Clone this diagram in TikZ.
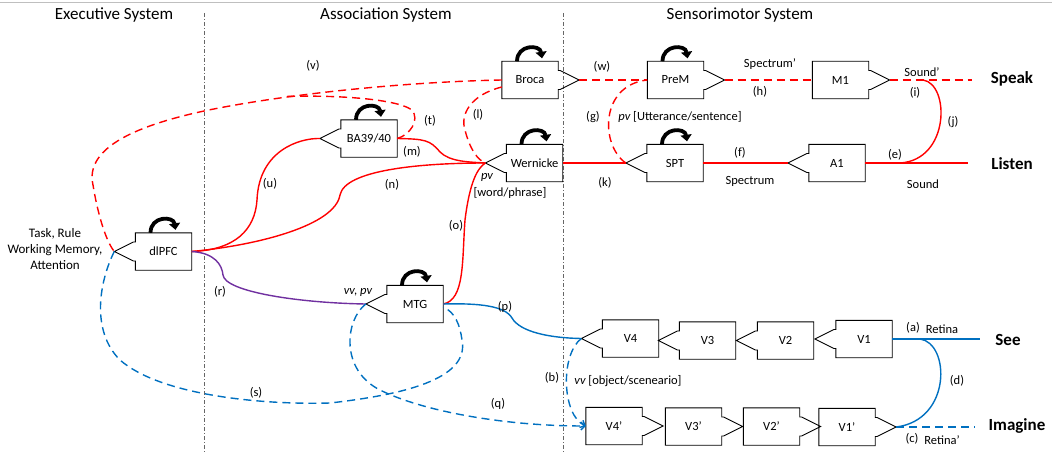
\documentclass[tikz,border=0pt]{standalone}
\usepackage{fontspec}
\setmainfont{Carlito}
\usetikzlibrary{arrows.meta,calc}
\definecolor{cred}{RGB}{255,0,0}
\definecolor{cblue}{RGB}{0,112,192}
\definecolor{cpurple}{RGB}{112,48,160}
\tikzset{
 bx/.style={draw=none, minimum width=56pt, minimum height=37pt, inner sep=0pt, font=\fontsize{12.5}{14}\selectfont},
 boxline/.style={draw=black, line width=0.9pt, line join=miter},
 loopar/.style={line width=3.8pt, -{Triangle[length=6.5pt,width=11pt]}},
 conn/.style={line width=1.4pt},
 dsh/.style={dash pattern=on 8pt off 5pt},
 arr/.style={-{Straight Barb[length=4pt,width=8pt]}},
 lbl/.style={font=\fontsize{12.5}{14}\selectfont, inner sep=0pt},
 hdr/.style={font=\fontsize{17}{20}\selectfont, inner sep=0pt},
 side/.style={font=\fontsize{17}{20}\selectfont\bfseries, inner sep=0pt},
 sepline/.style={line width=0.6pt, black!60, dash pattern=on 4pt off 2pt on 1pt off 2pt},
}
\newcommand\boxW[1]{%
 \draw[boxline] (#1.north east) -- (#1.north west) -- ([yshift=9.5pt]#1.west) -- ([yshift=9.5pt,xshift=-2pt]#1.west) -- ([xshift=-21pt]#1.west) -- ([yshift=-9.5pt,xshift=-2pt]#1.west) -- ([yshift=-9.5pt]#1.west) -- (#1.south west) -- (#1.south east) -- cycle;
 \coordinate (#1-tip) at ([xshift=-21pt]#1.west);}
\newcommand\boxE[1]{%
 \draw[boxline] (#1.north west) -- (#1.north east) -- ([yshift=9.5pt]#1.east) -- ([yshift=9.5pt,xshift=2pt]#1.east) -- ([xshift=21pt]#1.east) -- ([yshift=-9.5pt,xshift=2pt]#1.east) -- ([yshift=-9.5pt]#1.east) -- (#1.south east) -- (#1.south west) -- cycle;
 \coordinate (#1-tip) at ([xshift=21pt]#1.east);}
\newcommand\selfloop[1]{%
 \draw[loopar] ([xshift=-13pt]#1.north) .. controls +(0,-17) and +(-2,-14) .. ([xshift=12pt,yshift=3pt]#1.north);}
\begin{document}
\begin{tikzpicture}[x=1pt,y=-1pt]
\useasboundingbox (0,0) rectangle (1052,452);
\coordinate (tl) at (0,2.5); \coordinate (tr) at (1052,2.5);
\draw[black!25, line width=0.8pt] (tl) -- (tr);
% separators
\coordinate (s1t) at (204,13); \coordinate (s1b) at (204,452);
\coordinate (s2t) at (563,13); \coordinate (s2b) at (563,452);
\draw[sepline] (s1t) -- (s1b);
\draw[sepline] (s2t) -- (s2b);
% headers
\node[hdr] (h1) at (114,15) {Executive System};
\node[hdr] (h2) at (386,15) {Association System};
\node[hdr] (h3) at (740,15) {Sensorimotor System};
% boxes
\node[bx] (dlpfc) at (163.5,251.5) {dlPFC\hspace{19pt}};
\node[bx] (ba) at (369,138.5) {BA39/40};
\node[bx] (broca) at (530,80) {Broca\hspace{6pt}};
\node[bx] (wern) at (534.5,163) {Wernicke};
\node[bx] (prem) at (675.5,80) {PreM\hspace{9pt}};
\node[bx] (m1) at (840.5,80) {M1\hspace{25pt}};
\node[bx] (spt) at (675,163) {SPT};
\node[bx] (a1) at (837,163) {A1};
\node[bx] (mtg) at (415,304) {MTG\hspace{9pt}};
\node[bx] (v4) at (630.5,338.5) {V4};
\node[bx] (v3) at (707.5,340.5) {V3};
\node[bx] (v2) at (785.5,340.5) {V2\hspace{4pt}};
\node[bx] (v1) at (864,339) {V1\hspace{8pt}};
\node[bx] (v4p) at (614,426) {V4’};
\node[bx] (v3p) at (693.5,426.5) {V3’};
\node[bx] (v2p) at (771.5,426.5) {V2’};
\node[bx] (v1p) at (847,427) {V1’};
\boxW{dlpfc} \boxW{ba} \boxE{broca} \boxW{wern} \boxE{prem} \boxE{m1}
\boxW{spt} \boxW{a1} \boxW{mtg} \boxW{v4} \boxW{v3} \boxW{v2} \boxW{v1}
\boxE{v4p} \boxE{v3p} \boxE{v2p} \boxE{v1p}
\selfloop{dlpfc} \selfloop{ba} \selfloop{broca} \selfloop{wern}
\selfloop{prem} \selfloop{spt} \selfloop{mtg}
% free ends
\coordinate (tj) at (286,96.5);
\coordinate (j1) at (923,80);
\coordinate (j2) at (900,163);
\coordinate (speakend) at (972,80);
\coordinate (listenend) at (968,163);
\coordinate (d1) at (920,339);
\coordinate (seeend) at (980,339);
\coordinate (imagend) at (975,427);
% red solid
\draw[conn,cred] (a1.east) -- (listenend);
\draw[conn,cred] (j1) .. controls (950,84) and (950,160) .. (j2);
\draw[conn,cred] (a1-tip) -- (spt.east);
\draw[conn,cred] (spt-tip) -- (wern.east);
\draw[conn,cred] (dlpfc.east) .. controls (235,250) and (255,230) .. (257,200) .. controls (259,150) and (300,138) .. (ba-tip);
\draw[conn,cred] (dlpfc.east) .. controls (260,245) and (335,225) .. (340,195) .. controls (345,170) and (420,163) .. (wern-tip);
\draw[conn,cred] (ba.east) .. controls (425,139) and (430,140) .. (440,152) .. controls (450,162) and (470,162) .. (wern-tip);
\draw[conn,cred] (mtg.east) .. controls (465,300) and (462,260) .. (465,220) .. controls (470,180) and (478,168) .. (wern-tip);
% red dashed
\draw[conn,cred,dsh] (broca-tip) -- (prem.west);
\draw[conn,cred,dsh] (prem-tip) -- (m1.west);
\draw[conn,cred,dsh] (m1-tip) -- (speakend);
\draw[conn,cred,dsh] (spt-tip) .. controls (600,145) and (600,85) .. (prem.west);
\draw[conn,cred,dsh] ([yshift=-7pt]broca.west) .. controls (470,95) and (460,115) .. (465,130) .. controls (470,150) and (478,160) .. (wern-tip);
\draw[conn,cred,dsh] (broca.west) .. controls (400,82) and (280,95) .. (204,111) .. controls (130,127) and (85,150) .. (93,185) .. controls (97,210) and (105,240) .. (dlpfc-tip);
\draw[conn,cred,dsh] (ba.east) .. controls (410,135) and (420,120) .. (412,110) .. controls (395,98) and (330,95) .. (tj);
% purple
\draw[conn,cpurple] (dlpfc.east) .. controls (215,253) and (222,265) .. (223,275) .. controls (225,292) and (300,303) .. (mtg-tip);
% blue solid
\draw[conn,cblue] (mtg.east) .. controls (480,303) and (505,306) .. (512,318) .. controls (520,332) and (550,338) .. (v4-tip);
\draw[conn,cblue] (v1.east) -- (seeend);
\draw[conn,cblue] (d1) .. controls (950,343) and (952,420) .. (v1p-tip);
% blue dashed
\draw[conn,cblue,dsh] (v1p-tip) -- (imagend);
\draw[conn,cblue,dsh,arr] (v4-tip) .. controls (560,355) and (562,415) .. (v4p.west);
\draw[conn,cblue,dsh,arr] (mtg-tip) .. controls (345,320) and (340,370) .. (380,390) .. controls (420,410) and (500,426) .. (v4p.west);
\draw[conn,cblue,dsh] (dlpfc-tip) .. controls (100,280) and (90,330) .. (120,360) .. controls (160,395) and (260,405) .. (330,403) .. controls (400,395) and (470,380) .. (462,340) .. controls (460,325) and (455,312) .. ([yshift=-3pt]mtg.east);
% labels
\node[lbl] (lv) at (313,66) {(v)};
\node[lbl] (lt) at (430,121) {(t)};
\node[lbl] (ll) at (478,115) {(l)};
\node[lbl] (lm) at (412,152) {(m)};
\node[lbl] (ln) at (392,185) {(n)};
\node[lbl] (lu) at (270,184) {(u)};
\node[lbl] (lo) at (456,226) {(o)};
\node[lbl] (lpv) at (487,177) {\itshape pv};
\node[lbl] (lwp) at (510,193) {[word/phrase]};
\node[lbl] (lw) at (602,67) {(w)};
\node[lbl] (lg) at (593,117) {(g)};
\node[lbl] (lut) at (680,117) {{\itshape pv} [Utterance/sentence]};
\node[lbl] (lsp1) at (770,64) {Spectrum’};
\node[lbl] (lh) at (760,92) {(h)};
\node[lbl] (lso1) at (922,72) {Sound’};
\node[lbl] (li) at (915,93) {(i)};
\node[lbl] (lj) at (953,122) {(j)};
\node[lbl] (le) at (895,155) {(e)};
\node[lbl] (lso) at (923,184) {Sound};
\node[lbl] (lf) at (740,153) {(f)};
\node[lbl] (lsp) at (750,181) {Spectrum};
\node[lbl] (lk) at (605,183) {(k)};
\node[lbl] (lvv) at (358,292) {\itshape vv, pv};
\node[lbl] (lr) at (220,292) {(r)};
\node[lbl] (lp) at (505,307) {(p)};
\node[lbl] (lq) at (498,404) {(q)};
\node[lbl] (ls) at (256,393) {(s)};
\node[lbl] (lb) at (552,378) {(b)};
\node[lbl] (lobj) at (628,381) {{\itshape vv} [object/sceneario]};
\node[lbl] (la) at (913,328) {(a)};
\node[lbl] (lret) at (942,329) {Retina};
\node[lbl] (ld) at (957,381) {(d)};
\node[lbl] (lc) at (912,439) {(c)};
\node[lbl] (lretp) at (942,440) {Retina’};
\node[lbl, align=center, font=\fontsize{13}{16}\selectfont] (task) at (55,249) {Task, Rule\\Working Memory,\\Attention};
\node[side] (speak) at (1012,79) {Speak};
\node[side] (listen) at (1012,164) {Listen};
\node[side] (see) at (1008,340) {See};
\node[side] (imagine) at (1017,426) {Imagine};
\end{tikzpicture}
\end{document}
